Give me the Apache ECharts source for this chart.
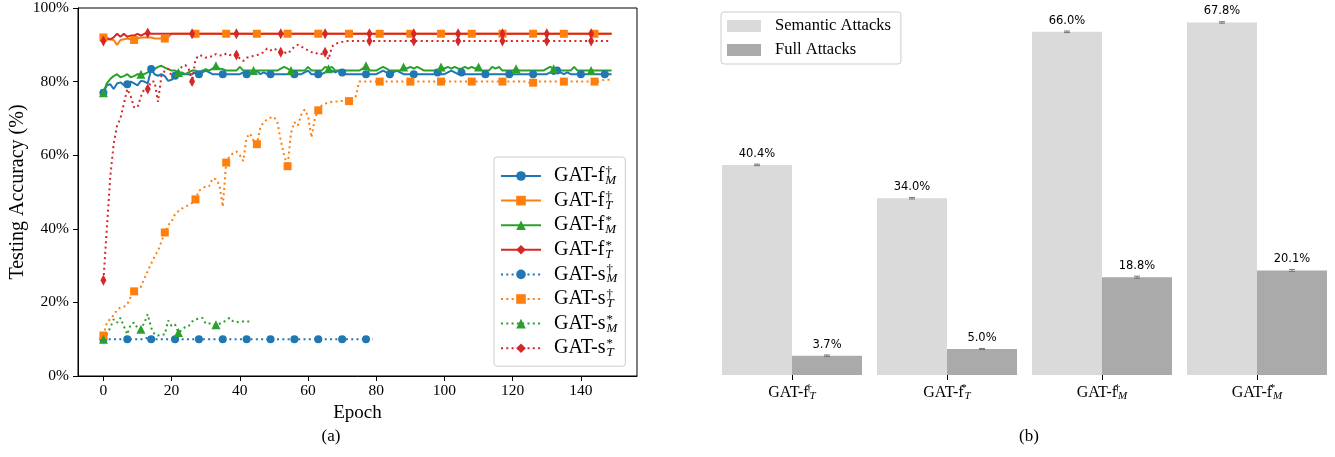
<!DOCTYPE html>
<html>
<head>
<meta charset="utf-8">
<script src="https://cdn.jsdelivr.net/npm/echarts@6/dist/echarts.min.js"></script>
<style>
html,body{margin:0;padding:0;background:#fff;}
#c{width:1335px;height:457px;}
</style>
</head>
<body>
<div id="c"></div>
<script>
// ---------- DATA (a): testing accuracy (%) per epoch ----------
const fM_dag = [
77,79,79.3,78,79.5,79.8,79,79.3,80,79.5,
79,80.2,80,79.5,83.4,82,81.6,82,81.5,80.2,
80.5,81.6,81.6,82,82,82,82,82.5,82,82.5,
83,82.5,82,82,82,82,82,82,82,82,
82,82.5,82,82.5,82,83,82,82.5,82,82,
82,82,82,82,82,82,82,82,82,82.5,
83,82,82,82,82,82.5,83,83,82.5,83,
82.5,82,82,82,82,82,82,82,82,82,
82,82.5,83,82.5,82,82.5,83,82.5,82,82,
82,82,82,82,82,82,82,82,82.5,82,
82,82.5,83,82.5,82,82.5,82,82,82,82,
82,82,82,82,82,82,82,82,82,82,
82,82,82,82,82,82,82,82,82,82,
82,82.5,82,83,82.5,82,82.5,82,82,82,
82,82,82,82,82,82,82,82,82,82];
const fT_dag = [
92,92,91.5,91.3,90,91.3,91.5,91.7,91.5,91.3,
91.7,92,92,92,92,91.7,91.7,91.7,91.7,92,
93,93,93,93,93,93,93,93,93,93,
93,93,93,93,93,93,93,93,93,93,
93,93,93,93,93,93,93,93,93,93,
93,93,93,93,93,93,93,93,93,93,
93,93,93,93,93,93,93,93,93,93,
93,93,93,93,93,93,93,93,93,93,
93,93,93,93,93,93,93,93,93,93,
93,93,93,93,93,93,93,93,93,93,
93,93,93,93,93,93,93,93,93,93,
93,93,93,93,93,93,93,93,93,93,
93,93,93,93,93,93,93,93,93,93,
93,93,93,93,93,93,93,93,93,93,
93,93,93,93,93,93,93,93,93,93];
const fM_star = [
77,79.5,80.7,81.5,82,81.2,81.5,82,81.2,81.5,
82,82,82,82.5,83,83.4,84,84.3,83.8,83.4,
83,83,82.5,82.5,82,82.5,83,83,82.5,83,
83.4,83,83.5,84.3,83.5,83.4,83,83,83,83,
84,83,83,83,83,83,83,83,83,83,
83,83,83.5,84,83.5,83,83,83,83,83,
84,83,83,83,83,84,83.5,84,83,83,
83,83,83,83,83,83,83.5,84.3,83,83,
83,83.5,84,83.5,83,83,83,83,84,83.5,
84,83.5,84,83.5,83,83,83,83,83,84,
83.5,84,83.5,84,83.5,83.5,84,83.5,84,83.5,
84,83,83,83,84,83.5,84,83,83,83,
83,83.5,83,83,83,83,83,83,83,83,
83.5,84,83.5,83,83,83,83,83,84,83,
83,83,83,83,83,83,83,83,83,83];
const fT_star = [
91,91.5,91.5,92,93,92.2,93,92.2,92.5,92.5,
93,92.5,93,93.2,93,93,93,93,93,93,
93,93,93,93,93,93,93,93,93,93,
93,93,93,93,93,93,93,93,93,93,
93,93,93,93,93,93,93,93,93,93,
93,93,93,93,93,93,93,93,93,93,
93,93,93,93,93,93,93,93,93,93,
93,93,93,93,93,93,93,93,93,93,
93,93,93,93,93,93,93,93,93,93,
93,93,93,93,93,93,93,93,93,93,
93,93,93,93,93,93,93,93,93,93,
93,93,93,93,93,93,93,93,93,93,
93,93,93,93,93,93,93,93,93,93,
93,93,93,93,93,93,93,93,93,93,
93,93,93,93,93,93,93,93,93,93];
const sM_dag = [
10,10,10,10,10,10,10,10,10,10,
10,10,10,10.5,10,10,10,10,10,10,
10,10,10.3,10,10,10,10,10,10,10,
10,10,10,10,10,10,10,10,10,10,
10,10,10,10,10,10,10,10,10,10,
10,10,10,10,10,10,10,10,10,10,
10,10,10,10,10,10,10,10,10,10,
10,10,10,10,10,10,10,10,10,10];
const sT_dag = [
11,14.5,15.5,16.5,18,18.6,18.8,19.5,21.5,23,
23.8,24.2,26.5,28.5,30.5,32.5,34,36.5,39,41,
42,44,44.8,45.5,46,46.5,47,48,50.3,51,
51.5,51.6,53.7,53.5,52,46,58,59.8,60.5,61,
60,58.4,64.8,65.9,64,63,67.5,69,69.7,70.2,
70.4,69,64,60,57,66,69,68,71,72.4,
70.6,64.8,70,72.2,73.5,74,74.3,74.5,74.5,74.7,
74.7,74.8,74.7,75,76,80,80,80,80,80,
80,80,80,80,80,80,80,80,80,80,
80,80,80,80,80,80,80,80,80,80,
80,80,80,80,80,80,80,80,80,80,
80,80,80,80,80,80,80,80,80,80,
80,80,80,80,80,79.7,79.7,80,80,80,
80,80,80,80,80,80,80,80,80,80,
80,80,80,80,80,80,80.3,80.5,80.5,80.5];
const sM_star = [
10,11.3,13.1,15.4,14.5,15.8,13.5,11.3,14,14.5,
13,12.7,14.5,16.8,13.1,11.3,11,11.3,11.3,15.1,
13.6,14,11.8,12.5,13.3,13.6,14.8,15.4,15.6,15.8,
14.2,14.3,14,13.9,14.2,14.5,15.2,15.8,14.9,14.6,
14.8,14.8,14.8,14.8];
const sT_star = [
26,40,54,63,68,70,74,78,76,73,
73,76,78,78,80,80,74.5,81.5,83,83.5,
81.5,82,83,84,84.5,83.5,80,86,87.2,87,
86.5,86.8,86.8,87.5,87.2,87,87.6,87.2,87.5,87.2,
86.3,85.6,86.5,86.7,87,87.2,87.5,88,89,88.5,
89,88.5,88,88,87.6,88.5,89.5,90,89.5,89,
88.5,88,88,87.4,87.5,88,86,89.5,90.3,90.5,
90.8,91,91,91,91,91,91,91,91,91,
91,91,91,91,91,91,91,91,91,91,
91,91,91,91,91,91,91,91,91,91,
91,91,91,91,91,91,91,91,91,91,
91,91,91,91,91,91,91,91,91,91,
91,91,91,91,91,91,91,91,91,91,
91,91,91,91,91,91,91,91,91,91,
91,91,91,91,91,91,91,91,91,91];
const xTicks = [0,20,40,60,80,100,120,140];

// ---------- DATA (b): success rate (%) ----------
const categories = ['GAT-f_T^†','GAT-f_T^*','GAT-f_M^†','GAT-f_M^*'];
const semantic = [40.4, 34.0, 66.0, 67.8];
const full = [3.7, 5.0, 18.8, 20.1];
const semanticErr = [0.15, 0.15, 0.15, 0.15];
const fullErr = [0.15, 0.1, 0.2, 0.2];

// ---------- helpers ----------
function toRich(s){
  const m = s.match(/^(.*)_(\w)\^(.)$/);
  return '{b|' + m[1] + '}{sup|\u200A' + m[3] + '}{sub|' + m[2] + '}';
}
const SERIF = 'Liberation Serif';
const C = ['#1f77b4','#ff7f0e','#2ca02c','#d62728'];

const lineDefs = [
  {name:'GAT-f_M^†', data:fM_dag, c:C[0], sym:'circle', every:7, dot:false},
  {name:'GAT-f_T^†', data:fT_dag, c:C[1], sym:'rect', every:9, dot:false},
  {name:'GAT-f_M^*', data:fM_star, c:C[2], sym:'triangle', every:11, dot:false},
  {name:'GAT-f_T^*', data:fT_star, c:C[3], sym:'diamond', every:13, dot:false},
  {name:'GAT-s_M^†', data:sM_dag, c:C[0], sym:'circle', every:7, dot:true},
  {name:'GAT-s_T^†', data:sT_dag, c:C[1], sym:'rect', every:9, dot:true},
  {name:'GAT-s_M^*', data:sM_star, c:C[2], sym:'triangle', every:11, dot:true},
  {name:'GAT-s_T^*', data:sT_star, c:C[3], sym:'diamond', every:13, dot:true}
];
const symSize = {circle:8, rect:8, triangle:9, diamond:[6,11]};

const lineSeries = lineDefs.map(d => ({
  type:'line', name:d.name, xAxisIndex:0, yAxisIndex:0,
  showSymbol:true, showAllSymbol:true, symbol:d.sym, symbolSize:symSize[d.sym],
  itemStyle:{color:d.c},
  lineStyle:{color:d.c, width:2, type: d.dot ? [2,3.3] : 'solid', cap:'butt'},
  emphasis:{disabled:true},
  data: d.data.map((v,i) => (i % d.every === 0) ? [i,v] : {value:[i,v], symbol:'none'})
}));

const chart = echarts.init(document.getElementById('c'), null, {renderer:'canvas'});

const legendRichBig = {
  b:{fontFamily:SERIF, fontSize:20, lineHeight:22, color:'#000'},
  sup:{fontFamily:SERIF, fontSize:13, width:0, verticalAlign:'top', color:'#000'},
  sub:{fontFamily:SERIF, fontSize:13, fontStyle:'italic', padding:[0,0,0,1], verticalAlign:'bottom', color:'#000'}
};
const axisRich = {
  b:{fontFamily:SERIF, fontSize:16, lineHeight:19, color:'#000'},
  sup:{fontFamily:SERIF, fontSize:11, width:0, verticalAlign:'top', color:'#000'},
  sub:{fontFamily:SERIF, fontSize:11, fontStyle:'italic', padding:[0,0,0,1], verticalAlign:'bottom', color:'#000'}
};

const option = {
  animation:false,
  backgroundColor:'#fff',
  grid:[
    {left:78, top:6, width:559, height:370, show:true, borderColor:'#000', borderWidth:1, backgroundColor:'transparent'},
    {left:714.5, top:7, width:620, height:368}
  ],
  xAxis:[
    {type:'value', gridIndex:0, min:-7.45, max:156.45,
     name:'Epoch', nameLocation:'middle', nameGap:24,
     nameTextStyle:{fontFamily:SERIF, fontSize:19, color:'#000'},
     axisLine:{show:true, onZero:false, lineStyle:{color:'#000', width:1}},
     axisTick:{show:true, inside:false, length:5, customValues:xTicks, lineStyle:{color:'#000'}},
     axisLabel:{customValues:xTicks, margin:7, fontFamily:SERIF, fontSize:15.5, color:'#000'},
     splitLine:{show:false}},
    {type:'category', gridIndex:1, data:categories,
     axisLine:{show:false},
     axisTick:{show:true, alignWithLabel:true, length:5, lineStyle:{color:'#000'}},
     axisLabel:{interval:0, margin:8, formatter:(v)=>toRich(v), rich:axisRich}}
  ],
  yAxis:[
    {type:'value', gridIndex:0, min:0, max:100, interval:20,
     name:'Testing Accuracy (%)', nameLocation:'middle', nameGap:50, nameRotate:90,
     nameTextStyle:{fontFamily:SERIF, fontSize:20, color:'#000'},
     axisLine:{show:true, onZero:false, lineStyle:{color:'#000', width:1}},
     axisTick:{show:true, length:5, lineStyle:{color:'#000'}},
     axisLabel:{formatter:'{value}%', margin:9, fontFamily:SERIF, fontSize:15.5, color:'#000'},
     splitLine:{show:false}},
    {type:'value', gridIndex:1, min:0, max:70.77, show:false, splitLine:{show:false}}
  ],
  legend:[
    {data:lineDefs.map(d=>d.name), orient:'vertical', left:494, top:157,
     padding:[8,8,7,6], itemGap:2.6, itemWidth:40, itemHeight:12,
     backgroundColor:'#fff', borderColor:'#cccccc', borderWidth:1, borderRadius:3,
     formatter:(n)=>toRich(n),
     textStyle:{padding:[0,0,0,8], rich:legendRichBig}},
    {data:['Semantic Attacks','Full Attacks'], orient:'vertical', left:721, top:12,
     padding:[5,10,5,6], itemGap:6, itemWidth:34, itemHeight:12, icon:'rect',
     backgroundColor:'#fff', borderColor:'#cccccc', borderWidth:1, borderRadius:3,
     textStyle:{fontFamily:SERIF, fontSize:16.5, lineHeight:18, color:'#000', padding:[0,0,0,9]}}
  ],
  series: lineSeries.concat([
    {type:'bar', name:'Semantic Attacks', xAxisIndex:1, yAxisIndex:1, data:semantic,
     barWidth:70, barGap:'0%', itemStyle:{color:'#dadada'},
     label:{show:true, position:'top', distance:5, formatter:(p)=>p.value.toFixed(1)+'%',
            fontFamily:'DejaVu Sans', fontSize:11.5, color:'#000'},
     emphasis:{disabled:true}},
    {type:'bar', name:'Full Attacks', xAxisIndex:1, yAxisIndex:1, data:full,
     barWidth:70, barGap:'0%', itemStyle:{color:'#aaaaaa'},
     label:{show:true, position:'top', distance:5, formatter:(p)=>p.value.toFixed(1)+'%',
            fontFamily:'DejaVu Sans', fontSize:11.5, color:'#000'},
     emphasis:{disabled:true}},
    {type:'custom', xAxisIndex:1, yAxisIndex:1, z:5,
     data: semantic.map((v,i)=>[i, v, semanticErr[i], -35]).concat(full.map((v,i)=>[i, v, fullErr[i], 35])),
     renderItem:function(params, api){
       const off = api.value(3);
       const top = api.coord([api.value(0), api.value(1)+api.value(2)]);
       const bot = api.coord([api.value(0), api.value(1)-api.value(2)]);
       const x = top[0] + off;
       const st = {stroke:'#777', lineWidth:1};
       return {type:'group', children:[
         {type:'line', shape:{x1:x, y1:top[1], x2:x, y2:bot[1]}, style:st},
         {type:'line', shape:{x1:x-3, y1:top[1], x2:x+3, y2:top[1]}, style:st},
         {type:'line', shape:{x1:x-3, y1:bot[1], x2:x+3, y2:bot[1]}, style:st}
       ]};
     }}
  ]),
  graphic:[
    {type:'text', style:{text:'(a)', x:331, y:437, align:'center', verticalAlign:'middle', font:'17px "Liberation Serif"', fill:'#000'}},
    {type:'text', style:{text:'(b)', x:1029, y:437, align:'center', verticalAlign:'middle', font:'17px "Liberation Serif"', fill:'#000'}}
  ]
};
chart.setOption(option);
</script>
</body>
</html>
